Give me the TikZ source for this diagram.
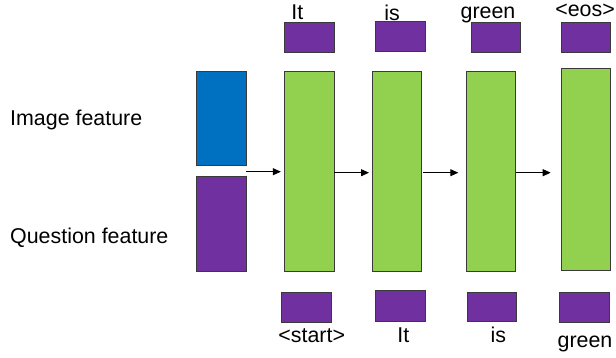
\documentclass[tikz,border=0pt]{standalone}
\usepackage{fontspec}
\setmainfont{Liberation Sans}
\usetikzlibrary{arrows.meta}
\definecolor{fblue}{HTML}{0070C0}
\definecolor{fpurple}{HTML}{7030A0}
\definecolor{fgreen}{HTML}{92D050}
\definecolor{edge}{HTML}{3A3A3A}
\begin{document}
\begin{tikzpicture}[x=1pt,y=-1pt,
  box/.style={draw=edge,line width=0.9pt,inner sep=0pt,outer sep=0pt},
  bluebox/.style={box,fill=fblue},
  purplebox/.style={box,fill=fpurple},
  greenbox/.style={box,fill=fgreen},
  lbl/.style={anchor=base,inner sep=0pt,font=\fontsize{21.4}{25}\selectfont},
  arr/.style={-{Triangle[length=8pt,width=7pt]},line width=0.9pt,black}]
\useasboundingbox (0,0) rectangle (616,358);
% left feature boxes
\node[bluebox,minimum width=49.3pt,minimum height=94.3pt] (img) at (221.3,118.2) {};
\node[purplebox,minimum width=49.3pt,minimum height=95pt] (qst) at (221.3,224.2) {};
% green LSTM cells
\node[greenbox,minimum width=49.7pt,minimum height=200.7pt] (g1) at (309.2,171.35) {};
\node[greenbox,minimum width=49.7pt,minimum height=200.7pt] (g2) at (396.85,171.35) {};
\node[greenbox,minimum width=49pt,minimum height=200.7pt] (g3) at (491.2,171.35) {};
\node[greenbox,minimum width=49pt,minimum height=201.7pt] (g4) at (586.2,169.15) {};
% top output boxes
\node[purplebox,minimum width=49.7pt,minimum height=30pt] (p1) at (309.2,37.3) {};
\node[purplebox,minimum width=50pt,minimum height=30pt] (p2) at (400,36) {};
\node[purplebox,minimum width=49pt,minimum height=30pt] (p3) at (495.5,37.7) {};
\node[purplebox,minimum width=49pt,minimum height=29.6pt] (p4) at (585.5,37.5) {};
% bottom input boxes
\node[purplebox,minimum width=49.3pt,minimum height=30.4pt] (b1) at (306.35,307.5) {};
\node[purplebox,minimum width=50pt,minimum height=30.3pt] (b2) at (400,305.85) {};
\node[purplebox,minimum width=49.4pt,minimum height=29.4pt] (b3) at (492,307) {};
\node[purplebox,minimum width=49.7pt,minimum height=30.4pt] (b4) at (584.15,307.5) {};
% labels
\node[lbl,anchor=base west] (limg) at (10,126) {Image feature};
\node[lbl,anchor=base west] (lqst) at (10,243.3) {Question feature};
\node[lbl] (t1) at (297.3,19.3) {It};
\node[lbl] (t2) at (392,20.7) {is};
\node[lbl] (t3) at (488,18.3) {green};
\node[lbl] (t4) at (585,16.7) {<eos>};
\node[lbl] (s1) at (311.7,342.7) {<start>};
\node[lbl] (s2) at (403.3,342.7) {It};
\node[lbl] (s3) at (498.3,342.7) {is};
\node[lbl] (s4) at (585,347.3) {green};
% arrows
\coordinate (a1) at (img.east |- 0,171.7);
\draw[arr,shorten >=3.5pt] (a1) -- (g1.west |- a1);
\coordinate (a2) at (g1.east |- 0,172.7);
\draw[arr,shorten >=3pt] (a2) -- (g2.west |- a2);
\coordinate (a3) at (g2.east |- 0,172.7);
\draw[arr,shorten <=1.6pt,shorten >=8.4pt] (a3) -- (g3.west |- a3);
\coordinate (a4) at (g3.east |- 0,172.7);
\draw[arr,shorten >=11pt] (a4) -- (g4.west |- a4);
\end{tikzpicture}
\end{document}
